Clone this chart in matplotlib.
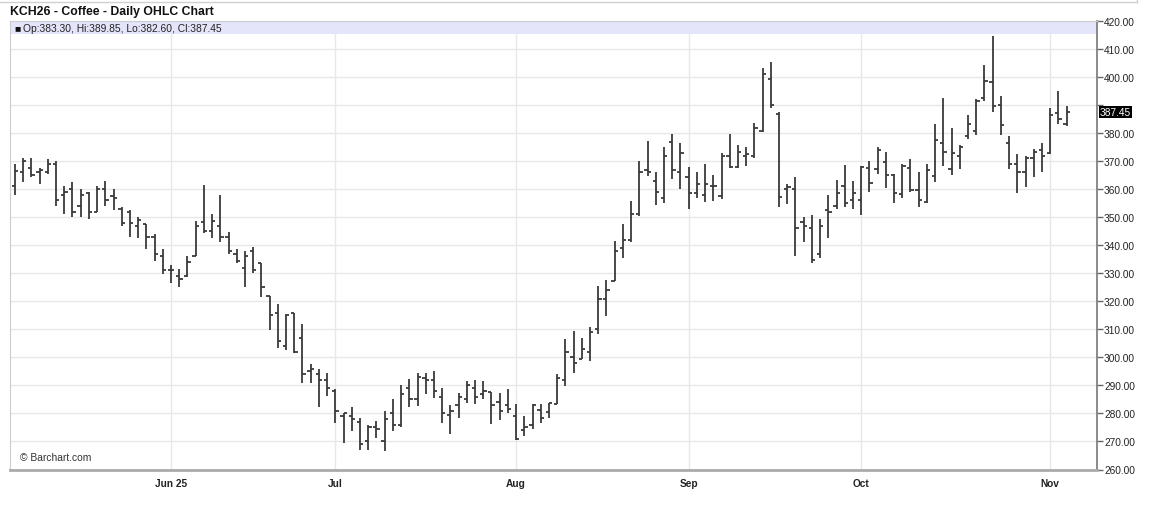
import matplotlib
matplotlib.use("Agg")
import matplotlib.pyplot as plt
import matplotlib.transforms as mtransforms
from matplotlib.lines import Line2D
import pandas as pd

plt.rcParams['font.family'] = ['Liberation Sans', 'DejaVu Sans']

# trading days, ICE holidays taken out
holidays = ["2025-05-26", "2025-06-19", "2025-07-04", "2025-09-01"]
dates = pd.bdate_range("2025-05-05", "2025-11-05")
dates = dates[~dates.isin(pd.to_datetime(holidays))]

opens = [361, 366, 367.7, 366, 366, 369, 358, 360, 354, 358.5,
         352, 360, 357.5, 353, 352, 347, 347.7, 343, 336, 331,
         329, 329, 336, 348.3, 345, 347, 343, 337, 332, 338,
         333.5, 322, 316, 304, 316, 307, 295, 294, 292, 288,
         279, 279, 277, 270, 275, 270, 280, 276, 289, 285,
         292.5, 292, 286, 279.5, 283, 285, 289, 287, 287.5, 284,
         283, 279, 274, 276, 281.4, 280.6, 283.2, 292, 300, 299.5,
         302, 310, 321, 327.3, 339, 342, 351, 367, 363, 357,
         377, 366, 364.4, 358.6, 358, 361, 357.7, 371.9, 368, 371.9,
         371.9, 380.8, 399.3, 387, 360, 360, 348.2, 346, 337, 352.4,
         354, 361, 356, 356.2, 367.5, 367.1, 369.8, 365, 358.2, 367.5,
         359.6, 355.5, 364.6, 376.4, 367.1, 372, 378.8, 380.8, 392.7, 398.1,
         390.2, 376.4, 368.9, 366, 371.3, 374, 372.9, 387.1, 383.30]
highs = [369, 371.3, 371.3, 367.4, 370.6, 370, 361, 362.4, 360, 359,
         361.2, 363, 360, 353.5, 352.7, 349.9, 347.7, 343.9, 338.6, 333,
         331.7, 336.2, 348.7, 361.4, 351, 357.9, 344.8, 338.6, 338, 339.5,
         333.5, 322, 319.2, 315.6, 316, 312, 297.5, 296, 294.5, 288.8,
         280.2, 282.4, 278.5, 275.7, 277.3, 280.8, 285.3, 290, 292.4, 294.5,
         294.5, 295, 289.2, 282.9, 287.4, 291.5, 292, 291.5, 287.6, 287.4,
         288.8, 283.2, 279, 283.2, 283.2, 283.8, 293.9, 306.4, 309.4, 307,
         311, 325.5, 327.6, 341.5, 347.5, 355.8, 370.1, 377.3, 366.2, 374.9,
         379.6, 376.3, 368, 366.2, 368.9, 365, 372.9, 379.6, 375.8, 374.9,
         383.6, 403.1, 405.5, 387.6, 361.8, 364.2, 349.9, 350.8, 349.3, 357.9,
         363.2, 368.6, 363, 368.3, 370.1, 374.9, 373.3, 365.4, 368.9, 370.7,
         366, 368.9, 383.2, 392.7, 381.8, 375.7, 386.4, 392.1, 404.3, 414.5,
         393.1, 379, 372.5, 371.9, 374.3, 376.3, 388.9, 395.1, 389.85]
lows = [358, 362.6, 364.4, 362, 365.5, 354, 351, 350.2, 350, 349.3,
        351.7, 354, 352.5, 346.7, 343, 342.7, 338.6, 334.4, 329.6, 326.7,
        325.2, 328.5, 336, 344.5, 342.7, 341.2, 336.8, 333.6, 325.2, 330,
        321.7, 309.6, 303.2, 302.5, 301.7, 291, 291, 282.4, 286.2, 276.7,
        269.3, 273.7, 267.1, 266.8, 271.3, 266.5, 273.7, 275.2, 282.4, 282.6,
        287.1, 285.6, 276.7, 272.5, 278.5, 283.8, 283.2, 285, 276.4, 277.6,
        280.2, 270.4, 271.9, 274.3, 276.7, 278.2, 283.2, 289.8, 294.5, 299.3,
        298.7, 308.2, 314.8, 327.3, 335.6, 341.2, 350.5, 364.8, 354.3, 355,
        363.8, 360.2, 352.9, 356.7, 355.5, 355.8, 356.4, 367.4, 367.5, 368.3,
        371, 380.5, 388.8, 353.5, 354.6, 336.2, 341, 333.8, 335.6, 342.7,
        353.1, 353.8, 353.1, 350.7, 359.1, 365.4, 360.6, 355.2, 357, 359,
        353.7, 355, 362.6, 368.3, 365.1, 367.1, 378, 379.3, 391.5, 387.4,
        379.3, 367.1, 358.8, 360.8, 364.4, 366, 372.5, 383.2, 382.60]
closes = [366.5, 370, 365, 367, 369, 356, 359, 352, 358, 352,
          360, 356, 357, 348, 348, 349, 343, 337, 331, 331,
          328, 334, 347, 345, 348.5, 343, 338, 334.5, 336, 331,
          325, 315, 306, 315, 302, 294, 295.7, 292, 289, 281,
          280, 278, 269, 275, 274.5, 278, 276, 287, 285, 293,
          292, 288, 280, 281, 286, 290, 286, 288, 283, 281,
          281.5, 271, 275, 283, 278.4, 283.6, 292.6, 302, 298, 303,
          309, 321, 324, 338, 342, 351, 366, 366, 359, 372,
          367, 373, 358.6, 361.8, 362, 361, 371.9, 368, 373.3, 372.7,
          381.8, 401.1, 390, 357.3, 360.8, 346, 346.8, 334.8, 347, 351.8,
          358.8, 355, 358.8, 367.8, 362.1, 374, 365, 358.8, 368.2, 359.8,
          356.2, 366.9, 377.6, 373.3, 373, 375, 383.2, 391.5, 398.7, 389.5,
          382.9, 368.9, 366, 371.3, 373.3, 371.9, 386.4, 385.2, 387.45]

month_labels = ["Jun 25", "Jul", "Aug", "Sep", "Oct", "Nov"]
y_ticks = list(range(260, 421, 10))

x = list(range(len(dates)))
month_pos = []
for i in range(1, len(dates)):
    if dates[i].month != dates[i - 1].month:
        month_pos.append(i)

W, H = 1172, 506
fig = plt.figure(figsize=(W / 100, H / 100), dpi=100)
ax = fig.add_axes([10 / W, 1 - 470.5 / H, 1087 / W, 448.5 / H])

ax.set_xlim(-0.6, 131.7)
ax.set_ylim(260, 420)

# grid
for v in y_ticks:
    ax.axhline(v, color="#e8e8e8", lw=1, zorder=0)
for p in month_pos:
    ax.axvline(p, color="#e8e8e8", lw=1, zorder=0)

# lavender band at top
ax.add_patch(plt.Rectangle((0, 1 - 13 / 448.5), 1, 13 / 448.5, transform=ax.transAxes,
                           facecolor="#e4e4fa", edgecolor="none", zorder=1))
ax.text(4 / 1087, 1 - 6.5 / 448.5, "\u25a0", transform=ax.transAxes, fontsize=7.5,
        va="center", ha="left", color="#111111", zorder=3)
ax.text(13 / 1087, 1 - 6.5 / 448.5, "Op:383.30, Hi:389.85, Lo:382.60, Cl:387.45",
        transform=ax.transAxes, fontsize=7.4, va="center", ha="left", color="#222222", zorder=3)

# OHLC bars
tw = 0.4
col = "#3a3a3a"
ax.vlines(x, lows, highs, color=col, lw=1.3, zorder=2)
ax.hlines(opens, [i - tw for i in x], x, color=col, lw=1.3, zorder=2)
ax.hlines(closes, x, [i + tw for i in x], color=col, lw=1.3, zorder=2)

# right axis
ax.yaxis.tick_right()
ax.set_yticks(y_ticks)
ax.set_yticklabels(["" if v == 390 else "%.2f" % v for v in y_ticks])
ax.tick_params(axis="y", direction="out", length=4, width=1, color="#666666",
               labelsize=7.3, labelcolor="#222222", pad=1)
ax.set_xticks(month_pos)
ax.set_xticklabels(month_labels, fontweight="bold")
ax.tick_params(axis="x", length=0, labelsize=7.3, labelcolor="#222222", pad=6)

for s in ["left", "top"]:
    ax.spines[s].set_color("#cccccc")
    ax.spines[s].set_linewidth(0.8)
ax.spines["right"].set_color("#777777")
ax.spines["right"].set_linewidth(1.2)
ax.spines["bottom"].set_color("#aaaaaa")
ax.spines["bottom"].set_linewidth(2)

# last price box
trans = mtransforms.blended_transform_factory(ax.transAxes, ax.transData)
ax.text(1.0 + 3 / 1087, closes[-1], "%.2f" % closes[-1], transform=trans, fontsize=7.3,
        color="white", va="center", ha="left",
        bbox=dict(boxstyle="square,pad=0.12", facecolor="black", edgecolor="none"))

ax.text(10 / 1087, 12 / 448.5, "\u00a9 Barchart.com", transform=ax.transAxes,
        fontsize=7.4, color="#333333", va="center", ha="left")

fig.text(10 / W, 1 - 12 / H, "KCH26 - Coffee - Daily OHLC Chart", fontsize=8.8,
         fontweight="bold", va="center", ha="left", color="#111111")

# outer frame line at top
fig.add_artist(Line2D([0, 1137 / W], [1 - 3 / H, 1 - 3 / H], color="#d0d0d0", lw=1))
fig.add_artist(Line2D([1137 / W, 1137 / W], [1, 1 - 3 / H], color="#d0d0d0", lw=1))

fig.savefig("out.png", dpi=100, facecolor="white")
